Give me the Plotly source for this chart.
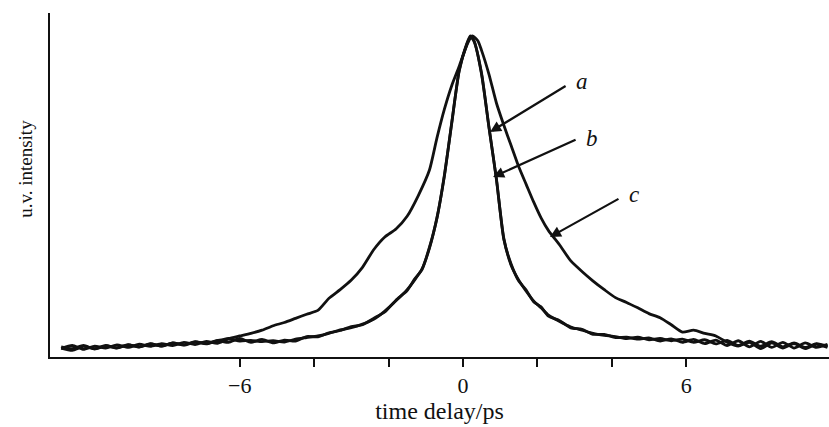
import plotly.graph_objects as go

# time delay (ps) samples
x_ab = [-10.8, -10.5, -10.2, -9.9, -9.6, -9.3, -9.0, -8.7, -8.4, -8.1, -7.8, -7.5, -7.2, -6.9,
        -6.6, -6.3, -6.0, -5.7, -5.4, -5.1, -4.8, -4.5, -4.2, -3.9, -3.6, -3.3, -3.0, -2.7, -2.4,
        -2.1, -1.8, -1.5, -1.3, -1.1, -0.9, -0.7, -0.5, -0.3, -0.1, 0.1, 0.2, 0.3, 0.5, 0.7, 0.9,
        1.1, 1.3, 1.5, 1.7, 1.9, 2.1, 2.3, 2.6, 2.9, 3.2, 3.5, 3.8, 4.1, 4.4, 4.7, 5.0, 5.3, 5.6,
        5.9, 6.2, 6.5, 6.8, 7.1, 7.4, 7.7, 8.0, 8.3, 8.6, 8.9, 9.2, 9.5, 9.8]

y_a = [0.020, 0.030, 0.018, 0.028, 0.022, 0.032, 0.024, 0.034, 0.027, 0.036, 0.030, 0.040, 0.033, 0.043,
       0.037, 0.050, 0.044, 0.046, 0.042, 0.045, 0.041, 0.050, 0.055, 0.060, 0.068, 0.079, 0.086, 0.097, 0.112,
       0.138, 0.170, 0.205, 0.235, 0.270, 0.335, 0.430, 0.560, 0.730, 0.890, 0.975, 1.000, 0.985, 0.880, 0.715, 0.550,
       0.365, 0.280, 0.235, 0.200, 0.170, 0.148, 0.125, 0.105, 0.088, 0.078, 0.068, 0.062, 0.058, 0.052, 0.056, 0.048, 0.052, 0.045,
       0.050, 0.040, 0.048, 0.035, 0.046, 0.030, 0.044, 0.028, 0.042, 0.026, 0.038, 0.024, 0.036, 0.028]

y_b = [0.026, 0.020, 0.030, 0.019, 0.029, 0.023, 0.033, 0.025, 0.035, 0.028, 0.038, 0.031, 0.041, 0.035,
       0.045, 0.040, 0.052, 0.040, 0.049, 0.038, 0.047, 0.044, 0.058, 0.057, 0.070, 0.077, 0.089, 0.095, 0.115,
       0.135, 0.172, 0.202, 0.238, 0.268, 0.338, 0.428, 0.563, 0.727, 0.893, 0.972, 0.998, 0.982, 0.884, 0.712, 0.553,
       0.362, 0.284, 0.232, 0.204, 0.167, 0.151, 0.122, 0.108, 0.085, 0.081, 0.065, 0.065, 0.055, 0.056, 0.050, 0.054, 0.044, 0.051,
       0.040, 0.049, 0.036, 0.047, 0.030, 0.045, 0.026, 0.043, 0.024, 0.040, 0.022, 0.038, 0.024, 0.034]

x_c = [-10.8, -10.5, -10.2, -9.9, -9.6, -9.3, -9.0, -8.7, -8.4, -8.1, -7.8, -7.5, -7.2, -6.9,
       -6.6, -6.3, -6.0, -5.7, -5.4, -5.1, -4.8, -4.5, -4.2, -3.9, -3.6, -3.3, -3.0, -2.7, -2.4,
       -2.1, -1.8, -1.5, -1.2, -0.9, -0.7, -0.5, -0.3, -0.1, 0.1, 0.25, 0.4, 0.5, 0.7, 0.9, 1.1,
       1.3, 1.5, 1.7, 1.9, 2.1, 2.3, 2.6, 2.9, 3.2, 3.5, 3.8, 4.1, 4.4, 4.7, 5.0, 5.3, 5.6, 5.9,
       6.2, 6.5, 6.8, 7.1, 7.4, 7.7, 8.0, 8.3, 8.6, 8.9, 9.2, 9.5, 9.8]

y_c = [0.022, 0.015, 0.027, 0.020, 0.030, 0.022, 0.032, 0.026, 0.036, 0.028, 0.038, 0.032, 0.042, 0.036,
       0.046, 0.052, 0.060, 0.068, 0.078, 0.092, 0.102, 0.115, 0.128, 0.140, 0.178, 0.205, 0.235, 0.275, 0.330,
       0.370, 0.395, 0.435, 0.500, 0.580, 0.680, 0.770, 0.845, 0.905, 0.970, 1.000, 0.985, 0.955, 0.880, 0.790, 0.720,
       0.655, 0.590, 0.535, 0.480, 0.430, 0.390, 0.345, 0.295, 0.262, 0.232, 0.205, 0.180, 0.165, 0.148, 0.130, 0.117, 0.095, 0.072,
       0.078, 0.068, 0.060, 0.040, 0.028, 0.040, 0.020, 0.038, 0.022, 0.036, 0.020, 0.034, 0.024]

tick_vals = [-6, -4, -2, 0, 2, 4, 6]
tick_text = ["\u22126", "", "", "0", "", "", "6"]

labels = ["a", "b", "c"]
# arrow heads and label positions in data coordinates; arrow tails as pixel offsets
arrow_heads = [(0.73, 0.699), (0.81, 0.558), (2.34, 0.370)]
arrow_tails_px = [(77, -47), (84, -38), (70, -39)]
label_pos = [(3.20, 0.856), (3.47, 0.680), (4.60, 0.502)]

FONT = "Liberation Serif, Times New Roman, serif"
ink = "#111111"

fig = go.Figure()
for xs, ys in [(x_ab, y_a), (x_ab, y_b), (x_c, y_c)]:
    fig.add_trace(go.Scatter(x=xs, y=ys, mode="lines",
                             line=dict(color=ink, width=2.8, shape="spline", smoothing=0.6),
                             showlegend=False, hoverinfo="skip"))

for lab, (hx, hy), (ax, ay), (tx, ty) in zip(labels, arrow_heads, arrow_tails_px, label_pos):
    fig.add_annotation(x=hx, y=hy, ax=ax, ay=ay, axref="pixel", ayref="pixel",
                       text="", showarrow=True, arrowhead=2, arrowsize=1.0,
                       arrowwidth=2.2, arrowcolor=ink)
    fig.add_annotation(x=tx, y=ty, text="<i>%s</i>" % lab, showarrow=False,
                       font=dict(family=FONT, size=23, color=ink),
                       xanchor="center", yanchor="middle")

fig.add_annotation(xref="paper", yref="paper", x=0, y=0.547, xanchor="center", yanchor="middle",
                   xshift=-24, text="u.v. intensity", textangle=-90, showarrow=False,
                   font=dict(family=FONT, size=19, color=ink))

fig.update_layout(
    width=829, height=427,
    margin=dict(l=50, r=0, t=13, b=70),
    paper_bgcolor="white", plot_bgcolor="white",
    font=dict(family=FONT, size=22, color=ink),
    xaxis=dict(range=[-11.1, 9.84], showgrid=False, zeroline=False,
               showline=True, linecolor=ink, linewidth=2,
               ticks="outside", ticklen=8, tickwidth=2, tickcolor=ink,
               tickvals=tick_vals, ticktext=tick_text,
               tickfont=dict(family=FONT, size=22, color=ink),
               title=dict(text="time delay/ps", standoff=4,
                          font=dict(family=FONT, size=24, color=ink))),
    yaxis=dict(range=[-0.006, 1.072], showgrid=False, zeroline=False,
               showline=True, linecolor=ink, linewidth=2,
               showticklabels=False, ticks=""),
)

fig.write_html("out.html", config={"displayModeBar": False},
               post_script="document.body.style.margin='0';")
